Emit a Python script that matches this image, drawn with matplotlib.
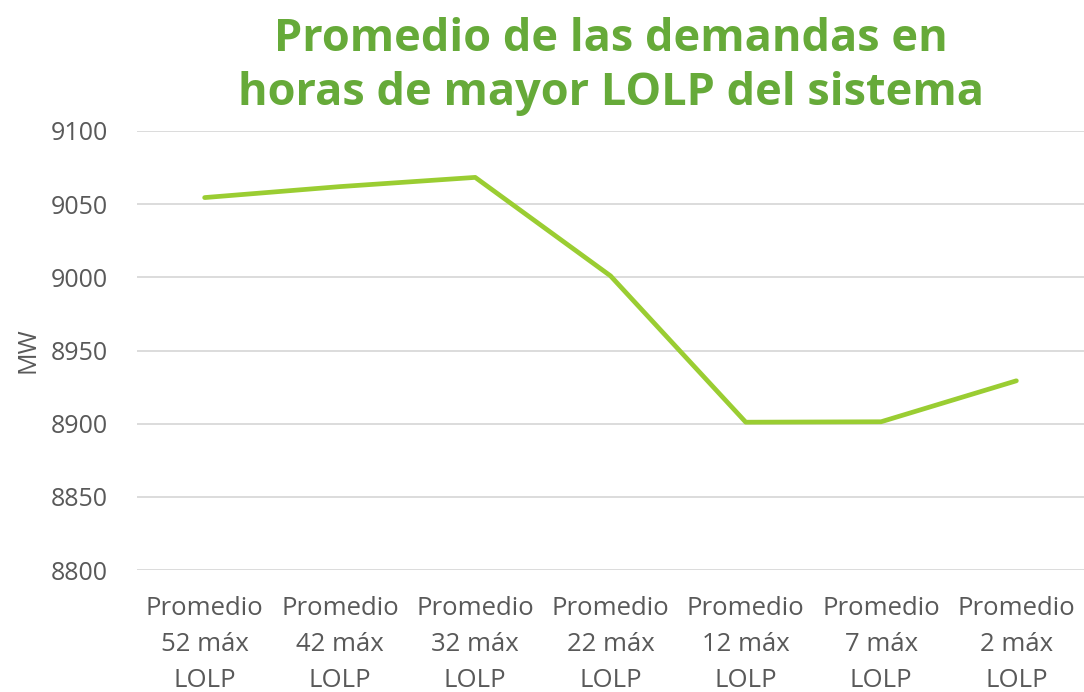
import matplotlib.pyplot as plt
import numpy as np

categorias = ['Promedio\n52 máx\nLOLP', 'Promedio\n42 máx\nLOLP', 'Promedio\n32 máx\nLOLP',
              'Promedio\n22 máx\nLOLP', 'Promedio\n12 máx\nLOLP', 'Promedio\n7 máx\nLOLP',
              'Promedio\n2 máx\nLOLP']
demandas = [9054.5, 9062, 9068.3, 9001, 8901, 8901.3, 8929.3]
y_ticks = [8800, 8850, 8900, 8950, 9000, 9050, 9100]

plt.rcParams['font.family'] = ['Open Sans', 'DejaVu Sans']

fig = plt.figure(figsize=(10.84, 6.92), dpi=100)
ax = fig.add_axes([137/1084, 1 - 570/692, (1084-137)/1084, (570-131)/692])

x = np.arange(len(categorias))
ax.plot(x, demandas, color='#9ACD32', linewidth=3.4, solid_capstyle='round', solid_joinstyle='round', zorder=3)

ax.set_xlim(-0.5, len(categorias) - 0.5)
ax.set_ylim(8800, 9100)
ax.set_yticks(y_ticks)
ax.set_xticks(x)
ax.set_xticklabels(categorias, fontsize=18.5, color='#595959', linespacing=1.58)
ax.tick_params(axis='y', labelsize=18, labelcolor='#595959', length=0, pad=21)
ax.tick_params(axis='x', length=0, pad=19)
ax.grid(axis='y', color='#D9D9D9', linewidth=1.3)
ax.set_axisbelow(True)
for s in ax.spines.values():
    s.set_visible(False)

ax.set_ylabel('MW', fontsize=18, color='#595959', labelpad=7)

ax.set_title('Promedio de las demandas en\nhoras de mayor LOLP del sistema',
             fontsize=32.5, fontweight='bold', color='#66AA39', pad=19, linespacing=1.25)

fig.savefig('out.png', dpi=100)
